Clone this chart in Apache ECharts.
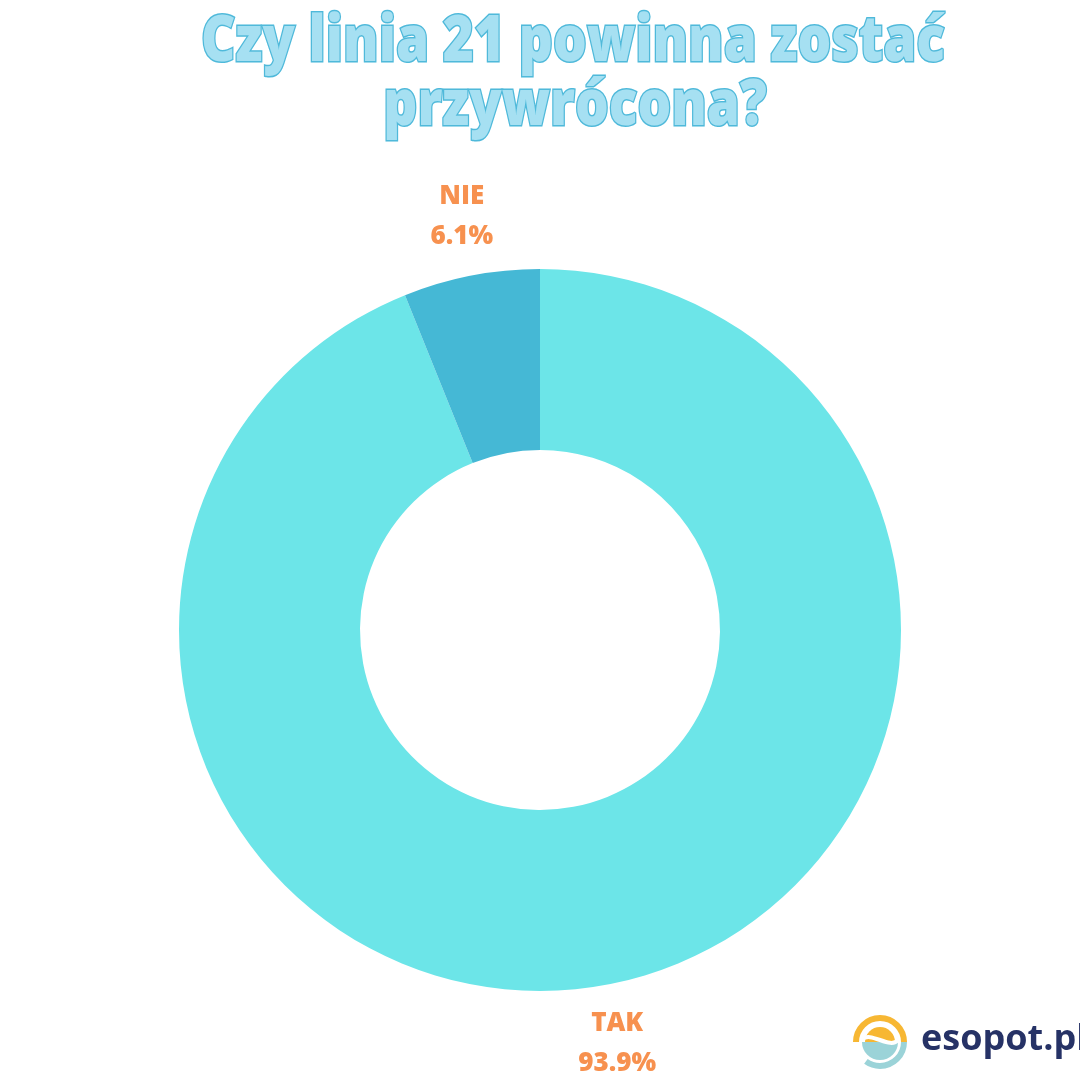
<!DOCTYPE html>
<html><head><meta charset="utf-8">
<script src="https://cdn.jsdelivr.net/npm/echarts@6/dist/echarts.min.js"></script>
<style>html,body{margin:0;padding:0;background:#fff}#c{width:1080px;height:1080px}</style>
</head><body><div id="c"></div>
<script>
const titleLines = ['Czy linia 21 powinna zostać', 'przywrócona?'];
const categories = ['TAK', 'NIE'];
const values = [93.9, 6.1];
const colors = ['#6CE5E8', '#45B8D5'];
const brand = 'esopot.pl';

const titleStyle = {
  font: '800 64px "Open Sans"',
  fill: '#A6E0F2',
  stroke: '#4FB9DA',
  lineWidth: 3,
  align: 'center',
  verticalAlign: 'middle',
  shadowColor: 'rgba(70,170,205,0.6)',
  shadowBlur: 0,
  shadowOffsetX: 2,
  shadowOffsetY: 3
};

const chart = echarts.init(document.getElementById('c'));
chart.setOption({
  backgroundColor: '#ffffff',
  series: [{
    type: 'pie',
    center: [540, 630],
    radius: [180, 361],
    startAngle: 90,
    clockwise: true,
    silent: true,
    label: {
      show: true,
      position: 'outside',
      formatter: p => p.name + '\n' + p.value.toFixed(1) + '%',
      fontFamily: 'Open Sans',
      fontWeight: 800,
      fontSize: 26,
      lineHeight: 40,
      color: '#F7914F',
      align: 'center'
    },
    labelLine: { show: false, length: 60, length2: 0 },
    labelLayout: p => ({ align: 'center', verticalAlign: 'middle', dx: p.dataIndex === 0 ? -8 : 7 }),
    data: categories.map((c, i) => ({ name: c, value: values[i], itemStyle: { color: colors[i] } }))
  }],
  graphic: [
    { type: 'text', x: 573, y: 43, scaleX: 0.83, scaleY: 1, style: Object.assign({ text: titleLines[0] }, titleStyle) },
    { type: 'text', x: 575, y: 107, scaleX: 0.83, scaleY: 1, style: Object.assign({ text: titleLines[1] }, titleStyle) },
    // logo icon
    { type: 'arc', shape: { cx: 880, cy: 1042, r: 24, startAngle: Math.PI * 1.0, endAngle: Math.PI * 2.0 }, style: { stroke: '#F7B733', lineWidth: 6, fill: null } },
    { type: 'arc', shape: { cx: 880, cy: 1042, r: 24, startAngle: Math.PI * 0.0, endAngle: Math.PI * 0.7 }, style: { stroke: '#9BD3D8', lineWidth: 6, fill: null } },
    { type: 'sector', shape: { cx: 880, cy: 1042, r: 15, r0: 0, startAngle: Math.PI, endAngle: Math.PI * 2 }, style: { fill: '#F7B733' } },
    { type: 'sector', shape: { cx: 880, cy: 1042, r: 18, r0: 0, startAngle: 0, endAngle: Math.PI }, style: { fill: '#9BD3D8' } },
    { type: 'bezierCurve', shape: { x1: 862, y1: 1040, cpx1: 870, cpy1: 1030, cpx2: 890, cpy2: 1050, x2: 898, y2: 1040 }, style: { stroke: '#ffffff', lineWidth: 4, fill: null } },
    { type: 'text', x: 921, y: 1040, style: { text: brand, font: '700 36px "Open Sans"', fill: '#263266', verticalAlign: 'middle' } }
  ]
});
</script></body></html>
